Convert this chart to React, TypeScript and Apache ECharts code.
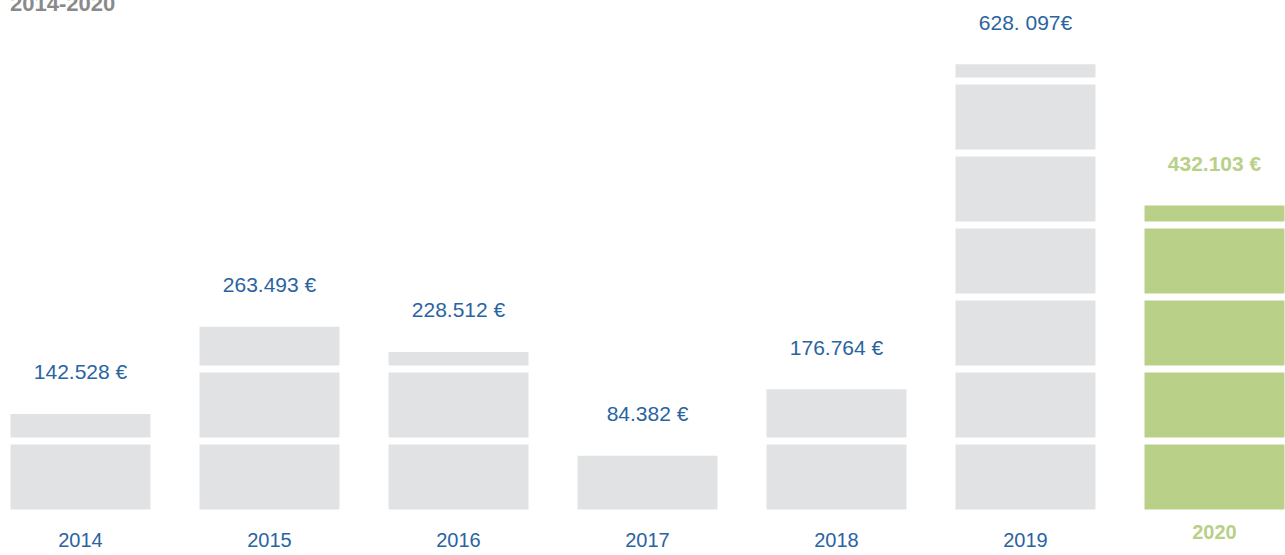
import React, { useEffect, useRef } from "react";
import * as echarts from "echarts";

const years = ["2014", "2015", "2016", "2017", "2018", "2019", "2020"];
const totals = [142528, 263493, 228512, 84382, 176764, 628097, 432103];
const valueLabels = ["142.528 €", "263.493 €", "228.512 €", "84.382 €", "176.764 €", "628. 097€", "432.103 €"];
const highlightYear = "2020";
const blockSize = 100000;
const title = "2014-2020";

const GRAY = "#e1e2e4";
const GREEN = "#b8d087";
const BLUE = "#2a64a0";
const FONT = "Liberation Sans, Arial, sans-serif";

export default function App() {
  const ref = useRef<HTMLDivElement>(null);
  useEffect(() => {
    if (!ref.current) return;
    const chart = echarts.init(ref.current, null, { renderer: "svg" });
    const nBlocks = Math.ceil(Math.max(...totals) / blockSize);
    const series: any[] = [];
    for (let k = 0; k < nBlocks; k++) {
      series.push({
        type: "bar",
        stack: "s",
        barWidth: 147,
        data: totals.map((t, i) => ({
          value: Math.min(blockSize, Math.max(0, t - k * blockSize)),
          itemStyle: {
            color: years[i] === highlightYear ? GREEN : GRAY,
            borderColor: "#ffffff",
            borderWidth: 3.5,
          },
        })),
      });
    }
    series.push({
      type: "bar",
      stack: "s",
      barWidth: 147,
      itemStyle: { color: "transparent" },
      data: totals.map((t, i) => ({
        value: 0,
        label: {
          show: true,
          position: "top",
          distance: 28,
          formatter: valueLabels[i],
          fontFamily: FONT,
          fontSize: 21,
          color: years[i] === highlightYear ? GREEN : BLUE,
          fontWeight: years[i] === highlightYear ? "bold" : "normal",
        },
      })),
    });
    chart.setOption({
      animation: false,
      grid: { left: 0, right: 0, top: 9, bottom: 42 },
      graphic: [
        {
          type: "text",
          x: 24,
          y: -8,
          style: {
            text: title,
            fill: "#8a8a8a",
            fontFamily: FONT,
            fontSize: 22,
            fontWeight: "bold",
          },
        },
      ],
      xAxis: {
        type: "category",
        data: years,
        axisLine: { show: false },
        axisTick: { show: false },
        axisLabel: {
          margin: 9,
          fontFamily: FONT,
          fontSize: 20,
          color: BLUE,
          formatter: (v: string) => (v === highlightYear ? `{g|${v}}` : `{b|${v}}`),
          rich: {
            b: { fontSize: 20, color: BLUE, fontFamily: FONT, padding: [8, 0, 0, 0] },
            g: { fontSize: 20, color: GREEN, fontWeight: "bold", fontFamily: FONT },
          },
        },
      },
      yAxis: {
        type: "value",
        min: 0,
        max: 700000,
        show: false,
        splitLine: { show: false },
      },
      series,
    });
    return () => chart.dispose();
  }, []);
  return (
    <div
      ref={ref}
      style={{ position: "fixed", left: -14, top: 0, width: 1323, height: 555, background: "#fff" }}
    />
  );
}
